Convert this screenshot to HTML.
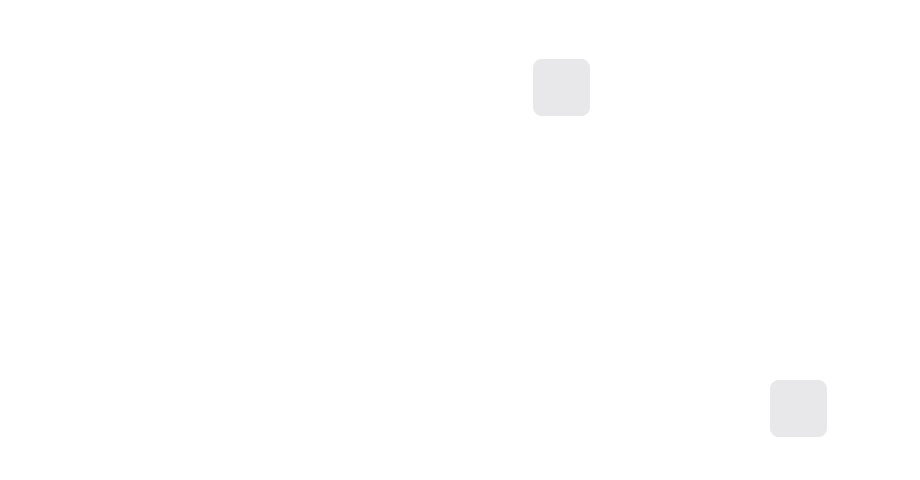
<!DOCTYPE html>
<html><head><style>
html,body{margin:0;padding:0;background:#fff;width:920px;height:480px;overflow:hidden;position:relative}
.b{position:absolute;width:57px;height:57px;border-radius:9px;background:#e8e8eb}
</style></head><body>
<div class="b" style="left:533px;top:59px"></div>
<div class="b" style="left:770px;top:380px"></div>
</body></html>
